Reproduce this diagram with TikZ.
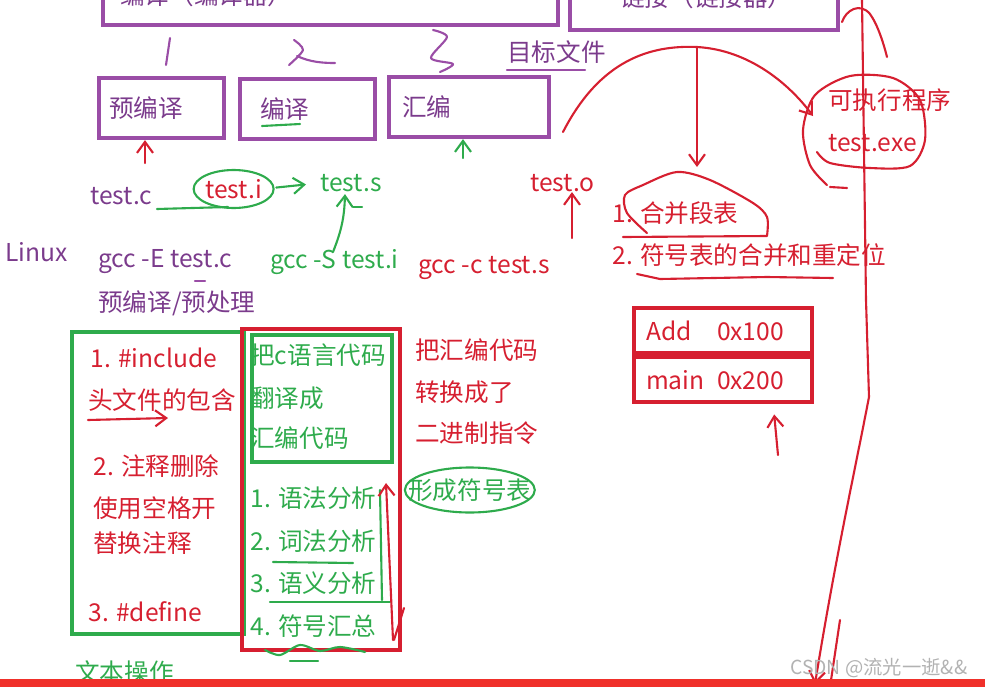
\documentclass[tikz,border=0pt]{standalone}
\usepackage{fontspec}
\setmainfont{Noto Sans CJK SC}
\usetikzlibrary{arrows.meta,positioning,calc}
\definecolor{purp}{HTML}{9A4DA6}
\definecolor{ptext}{HTML}{7B3B8C}
\definecolor{rd}{HTML}{D61F30}
\definecolor{gr}{HTML}{2EAB4C}
\definecolor{bar}{HTML}{F0302A}

\begin{document}
\begin{tikzpicture}[
    x=0.02cm, y=-0.02cm,
    font=\fontsize{14}{16}\selectfont,
    lbl/.style={anchor=west, inner sep=0pt},
    pbox/.style={draw=purp, line width=2.4pt},
    rbox/.style={draw=rd, line width=2.4pt},
    gbox/.style={draw=gr, line width=2.4pt},
    stage/.style={pbox, anchor=west, minimum height=1.2cm, text=ptext},
    cell/.style={rbox, minimum width=3.56cm, minimum height=0.9cm, inner xsep=0.24cm, text width=3.08cm, text=rd},
    pen/.style={line width=1.2pt, line cap=round, line join=round},
    rarrow/.style={pen, draw=rd, -{Straight Barb[length=2.2mm,width=3.2mm]}},
    garrow/.style={pen, draw=gr, -{Straight Barb[length=2.2mm,width=3.2mm]}}
]
    \useasboundingbox (0,0) rectangle (985,687);
    \clip (0,0) rectangle (985,687);

    % top boxes, cut at the edge
    \draw[pbox] (103,-20) rectangle (558,25);
    \node[lbl, text=ptext] (compiler) at (120,-5) {编译（编译器）};
    \draw[pbox] (570,-20) rectangle (838,30);
    \node[lbl, text=ptext] (linker) at (620,-3) {链接（链接器）};

    % handwritten step numbers
    \draw[pen, purp] (170,38) -- (166,65);
    \draw[pen, purp] plot[smooth] coordinates {(294,40) (303,50) (289,65)};
    \draw[pen, purp] (297,56) .. controls (310,62) and (322,63) .. (335,63);
    \draw[pen, purp] plot[smooth] coordinates {(433,30) (447,37) (431,58) (453,64) (440,72)};
    \node[lbl, text=ptext] (objfile) at (507,52) {目标文件};
    \draw[pen, purp] (507,70) -- (585,70);

    % stages
    \node[stage, inner xsep=0.2cm, text width=2.1cm] (pre) at (97,108) {预编译};
    \node[stage, inner xsep=0.4cm, text width=1.9cm] (comp) at (238,109) {编译};
    \node[stage, inner xsep=0.26cm, text width=2.68cm] (asm) at (387,107) {汇编};
    \draw[pen, gr] (262,126) -- (300,124);

    \coordinate (preTail) at (145,163);
    \draw[rarrow] (preTail) -- (preTail |- pre.south);
    \coordinate (asmTail) at (463,158);
    \draw[garrow] (asmTail) -- (asmTail |- asm.south);

    % files
    \node[lbl, text=ptext] (testc) at (90,196) {test.c};
    \node[lbl, text=rd] (testi) at (205,189) {test.i};
    \node[lbl, text=gr] (tests) at (320,183) {test.s};
    \node[lbl, text=rd] (testo) at (530,183) {test.o};
    \draw[pen, gr] (testi.center) ellipse [x radius=0.8cm, y radius=0.38cm];
    \draw[pen, gr] (157,209) -- (228,207);
    \draw[garrow, shorten <=8pt, shorten >=8pt] (testi.east) -- (tests.west);

    % commands
    \node[lbl, text=ptext] (linux) at (5,252) {Linux};
    \node[lbl, text=ptext] (gccE) at (98,262) {gcc -E test.c};
    \node[lbl, text=gr] (gccS) at (270,262) {gcc -S test.i};
    \node[lbl, text=rd] (gccc) at (418,268) {gcc -c test.s};
    \node[lbl, text=ptext] (prename) at (98,303) {预编译/预处理};
    \draw[pen, purp] (195,281) -- (205,281);

    \coordinate (sTail) at (333,252);
    \draw[garrow] (sTail) to[bend right=10] ($(tests.south)+(-6,2)$);
    \draw[pen, gr] (353,207) -- (362,207);
    \coordinate (oTail) at (572,238);
    \draw[rarrow] (oTail) -- (oTail |- testo.south);

    % linking
    \node[lbl, text=rd] (exename) at (828,100) {可执行程序};
    \node[lbl, text=rd] (exe) at (828,143) {test.exe};
    \draw[pen, rd] plot[smooth] coordinates {(817,152) (830,163) (870,168) (910,166) (925,140) (920,100) (893,78) (850,76) (815,95) (803,130) (810,165) (827,185)};
    \draw[pen, rd] (830,187) -- (847,188);

    \coordinate (arcStart) at (563,132);
    \coordinate (arcTop) at (697,47);
    \draw[rarrow] (arcStart) .. controls (600,60) and (650,45) .. (arcTop) .. controls (750,50) and (790,85) .. (813,116);
    \draw[rarrow] (arcTop) -- (697,167);

    \draw[pen, rd] (842,22) .. controls (846,10) and (860,2) .. (870,14) .. controls (878,25) and (884,45) .. (887,57);
    \draw[rarrow] (862,0) -- (866,300) -- (869,397) .. controls (855,470) and (835,560) .. (815,684);
    \draw[pen, rd] (840,620) -- (830,687);

    \node[lbl, text=rd] (merge) at (612,213) {1. 合并段表};
    \draw[pen, rd] plot[smooth] coordinates {(647,233) (627,213) (625,195) (643,185) (677,172) (710,180) (753,203) (767,217) (767,236)} -- (623,237);
    \node[lbl, text=rd] (symmerge) at (612,255) {2. 符号表的合并和重定位};
    \draw[pen, rd] (637,274) -- (660,279) -- (767,277) -- (833,278);

    % symbol table
    \node[cell, anchor=north west] (addrow) at (632,306) {\makebox[1.42cm][l]{Add}0x100};
    \node[cell, below=0pt of addrow] (mainrow) {\makebox[1.42cm][l]{main}0x200};
    \coordinate (tblTail) at (778,455);
    \draw[rarrow] (tblTail) -- ($(mainrow.south east)+(-40,10)$);

    % preprocessing box
    \node[gbox, anchor=north west, minimum width=3.44cm, minimum height=6.04cm] (prebox) at (70,330) {};
    \node[lbl, text=rd] (inc) at (90,358) {1. \#include};
    \node[lbl, text=rd] (hdr) at (88,400) {头文件的包含};
    \coordinate (incTail) at (88,420);
    \draw[rarrow] (incTail) -- ++(80,-2);
    \node[lbl, text=rd] (cmt) at (93,466) {2. 注释删除};
    \node[lbl, text=rd] (spc) at (93,508) {使用空格开};
    \node[lbl, text=rd] (rep) at (93,543) {替换注释};
    \node[lbl, text=rd] (def) at (88,612) {3. \#define};

    % compile box
    \node[rbox, anchor=north west, minimum width=3.16cm, minimum height=6.42cm] (compbox) at (240,327) {};
    \node[gbox, anchor=north west, minimum width=2.8cm, minimum height=2.54cm] (transbox) at (250,333) {};
    \node[lbl, text=gr] (trans1) at (250,355) {把c语言代码};
    \node[lbl, text=gr] (trans2) at (250,398) {翻译成};
    \node[lbl, text=gr] (trans3) at (250,438) {汇编代码};
    \node[lbl, text=gr] (step1) at (250,498) {1. 语法分析};
    \node[lbl, text=gr] (step2) at (250,541) {2. 词法分析};
    \node[lbl, text=gr] (step3) at (250,583) {3. 语义分析};
    \node[lbl, text=gr] (step4) at (250,626) {4. 符号汇总};
    \draw[pen, gr] (273,562) -- (353,563);
    \draw[pen, gr] (270,602) -- (390,602);
    \draw[pen, gr] (380,490) -- (382,600);
    \draw[pen, gr] plot[smooth] coordinates {(265,650) (280,655) (300,645) (320,651) (340,647) (365,652)};
    \draw[pen, gr] (290,661) -- (318,661);
    \draw[rarrow] (393,640) -- (386,483);
    \draw[pen, rd] (404,608) -- (394,640);

    % assembly
    \node[lbl, text=rd] (bin1) at (415,350) {把汇编代码};
    \node[lbl, text=rd] (bin2) at (415,392) {转换成了};
    \node[lbl, text=rd] (bin3) at (415,433) {二进制指令};
    \node[lbl, text=gr] (symform) at (408,490) {形成符号表};
    \draw[pen, gr] (symform.center) ellipse [x radius=1.3cm, y radius=0.45cm];

    \node[lbl, text=gr] (textop) at (75,672) {文本操作};
    \fill[bar] (0,679) rectangle (985,687);
    \node[lbl, text=gray!60, font=\fontsize{11}{12}\selectfont] (wm) at (790,668) {CSDN @流光一逝\&\&};
\end{tikzpicture}
\end{document}
